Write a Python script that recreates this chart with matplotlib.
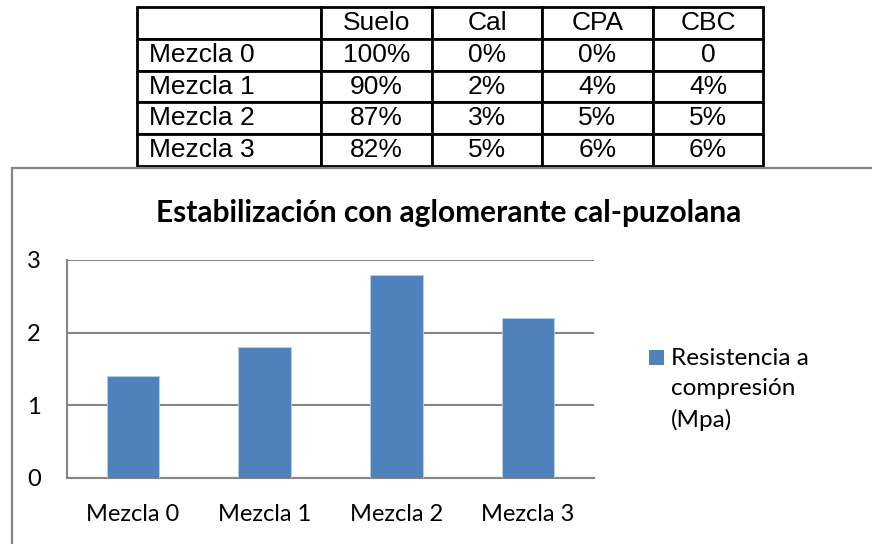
import matplotlib
matplotlib.use("Agg")
import matplotlib.pyplot as plt
from matplotlib.patches import Rectangle

# ---- data ----
table_cols = ["Suelo", "Cal", "CPA", "CBC"]
table_rows = ["Mezcla 0", "Mezcla 1", "Mezcla 2", "Mezcla 3"]
suelo = ["100%", "90%", "87%", "82%"]
cal = ["0%", "2%", "3%", "5%"]
cpa = ["0%", "4%", "5%", "6%"]
cbc = ["0", "4%", "5%", "6%"]

categories = ["Mezcla 0", "Mezcla 1", "Mezcla 2", "Mezcla 3"]
resistencia = [1.4, 1.8, 2.8, 2.2]
series_label = "Resistencia a\ncompresión\n(Mpa)"
title = "Estabilización con aglomerante cal-puzolana"
yticks = [0, 1, 2, 3]

W, H = 872, 544
fig = plt.figure(figsize=(W / 100, H / 100), dpi=100)
fig.patch.set_facecolor("white")

chart_font = ["Lato", "DejaVu Sans"]
table_font = ["Liberation Sans", "DejaVu Sans"]

def fx(px):
    return px / W

def fy(py):
    return 1 - py / H

# ---- table ----
tx0, tx1, ty0, ty1 = 137, 763, 7, 166
tax = fig.add_axes([fx(tx0), fy(ty1), fx(tx1 - tx0), (ty1 - ty0) / H])
tax.axis("off")
cell_text = [[""] + table_cols] + [[r, s, c, p, b] for r, s, c, p, b in
                                   zip(table_rows, suelo, cal, cpa, cbc)]
col_w = [184, 111, 110, 111, 110]
tot = sum(col_w)
tbl = tax.table(cellText=cell_text, colWidths=[w / tot for w in col_w],
                bbox=[0, 0, 1, 1], cellLoc="center")
tbl.auto_set_font_size(False)
for (r, c), cell in tbl.get_celld().items():
    cell.set_linewidth(2.0)
    cell.set_edgecolor("black")
    cell.get_text().set_fontsize(19)
    cell.get_text().set_family(table_font)
    cell.get_text().set_color("black")
    if c == 0:
        cell.get_text().set_ha("left")
        cell.PAD = 0.065

# ---- chart box ----
fig.add_artist(Rectangle((fx(12), -0.05), 1.2, fy(168) + 0.05, transform=fig.transFigure,
                         fill=False, edgecolor="#868686", linewidth=1.6, clip_on=False))

fig.text(fx(449), fy(213), title, ha="center", va="center", fontsize=21.5,
         fontweight="bold", family=chart_font, color="black")

ax = fig.add_axes([fx(67), fy(478), fx(594 - 67), (478 - 260) / H])
x = range(len(categories))
ax.bar(x, resistencia, width=0.4, color="#4F81BD", edgecolor="#B9CDE5", linewidth=0.6, zorder=3)
ax.set_xlim(-0.5, len(categories) - 0.5)
ax.set_ylim(0, 3)
ax.set_yticks(yticks)
ax.set_xticks(list(x))
ax.set_xticklabels(categories)
ax.yaxis.grid(True, color="#868686", linewidth=1.5, zorder=0)
ax.set_axisbelow(True)
for s in ["top", "right"]:
    ax.spines[s].set_visible(False)
for s in ["left", "bottom"]:
    ax.spines[s].set_color("#868686")
    ax.spines[s].set_linewidth(1.5)
ax.tick_params(axis="both", length=0, labelsize=17, colors="black")
ax.tick_params(axis="y", pad=19)
ax.tick_params(axis="x", pad=19)
for lab in ax.get_xticklabels() + ax.get_yticklabels():
    lab.set_family(chart_font)

# ---- legend ----
fig.add_artist(Rectangle((fx(649), fy(365)), fx(15), 15 / H, transform=fig.transFigure,
                         facecolor="#4F81BD", edgecolor="none"))
fig.text(fx(671), fy(348), series_label, ha="left", va="top", fontsize=17.5,
         family=chart_font, linespacing=1.55, color="black")

fig.savefig("out.png", dpi=100)
